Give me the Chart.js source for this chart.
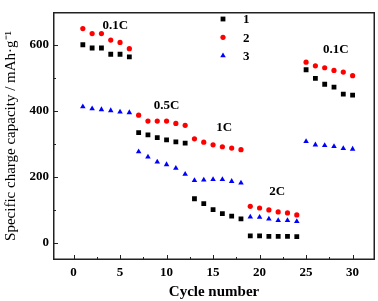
<!DOCTYPE html>
<html>
<head>
<meta charset="utf-8">
<script src="https://cdn.jsdelivr.net/npm/chart.js@4"></script>
<style>
  html, body { margin:0; padding:0; background:#fff; }
  #wrap { width:378px; height:301px; }
</style>
</head>
<body>
<div id="wrap"><canvas id="rateChart" width="378" height="301"></canvas></div>
<script>
// cycles 1..30, values (mAh/g)
const cycles  = Array.from({ length: 30 }, (_, i) => i + 1);
const sample1 = [601, 591, 591, 572, 572, 564, 334, 327, 319, 312, 306, 302, 133, 118, 100, 88, 80, 72, 20, 20, 19, 19, 19, 18, 525, 499, 481, 472, 451, 448];
const sample2 = [650, 635, 635, 615, 608, 589, 387, 369, 369, 369, 362, 356, 315, 305, 297, 291, 287, 282, 110, 105, 99, 93, 90, 84, 548, 537, 531, 523, 518, 507];
const sample3 = [413, 407, 404, 401, 397, 395, 276, 260, 245, 237, 226, 208, 189, 190, 192, 192, 186, 181, 78, 77, 72, 67, 67, 64, 307, 297, 295, 292, 286, 284];
const seriesNames = ['1', '2', '3'];
const xTicks = [0, 5, 10, 15, 20, 25, 30];
const yTicks = [0, 200, 400, 600];
const rateLabels = ['0.1C', '0.5C', '1C', '2C', '0.1C'];
const rateLabelAt = [[4.5, 660], [10.0, 417], [16.2, 348], [21.9, 154], [28.2, 585]];

const SERIF = '"Liberation Serif", "Times New Roman", serif';

const toXY = vals => vals.map((v, i) => ({ x: cycles[i], y: v }));

const styles = [
    { color:'#000000', shape:'rect',     r:3.4 },
    { color:'#ff0000', shape:'circle',   r:2.6 },
    { color:'#0000ff', shape:'triangle', r:3.2 }
];

const framePlugin = {
    id: 'frame',
    afterDraw(chart) {
        const { ctx, chartArea: a, scales: { x, y } } = chart;
        const L = Math.round(a.left), R = Math.round(a.right), T = Math.round(a.top), B = Math.round(a.bottom);
        ctx.save();
        ctx.globalAlpha = 1;
        ctx.fillStyle = '#222222';
        // frame as filled strips
        ctx.fillRect(L - 1, T - 1, R - L + 2, 1.5);
        ctx.fillRect(L - 1, B - 0.5, R - L + 2, 1.5);
        ctx.fillRect(L - 1, T - 1, 1.5, B - T + 2);
        ctx.fillRect(R - 0.5, T - 1, 1.5, B - T + 2);

        // inward ticks
        xTicks.forEach((t, i) => {
            const px = Math.round(x.getPixelForValue(t));
            ctx.fillRect(px, B - 4, 1, 4);
            if (i < xTicks.length - 1) {
                const mx = Math.round(x.getPixelForValue(t + 2.5));
                ctx.fillRect(mx, B - 2, 1, 2);
            }
        });
        yTicks.forEach((t, i) => {
            const py = Math.round(y.getPixelForValue(t));
            ctx.fillRect(L, py, 4, 1);
            if (i < yTicks.length - 1) {
                const my = Math.round(y.getPixelForValue(t + 100));
                ctx.fillRect(L, my, 2, 1);
            }
        });

        // rate annotations
        ctx.fillStyle = '#000';
        ctx.font = `bold 13px ${SERIF}`;
        ctx.textAlign = 'center';
        ctx.textBaseline = 'middle';
        rateLabels.forEach((txt, i) => {
            ctx.fillText(txt, x.getPixelForValue(rateLabelAt[i][0]), y.getPixelForValue(rateLabelAt[i][1]));
        });

        // legend
        ctx.textAlign = 'left';
        seriesNames.forEach((name, i) => {
            const ly = 19 + i * 18.3;
            const s = styles[i];
            ctx.fillStyle = s.color;
            Chart.helpers.drawPoint(ctx, { pointStyle: s.shape, radius: s.r, borderWidth: 0 }, 223, ly);
            ctx.fillStyle = '#000';
            ctx.fillText(name, 243, ly + 1);
        });
        ctx.restore();
    }
};

new Chart(document.getElementById('rateChart'), {
    type: 'scatter',
    data: {
        datasets: [sample1, sample2, sample3].map((vals, i) => ({
            label: seriesNames[i],
            data: toXY(vals),
            pointStyle: styles[i].shape,
            pointRadius: styles[i].r,
            pointBackgroundColor: styles[i].color,
            pointBorderWidth: 0,
            showLine: false
        }))
    },
    options: {
        responsive: false,
        animation: false,
        layout: { padding: { top: 2, right: 3, left: 0, bottom: 0 } },
        plugins: { legend: { display: false }, tooltip: { enabled: false } },
        scales: {
            x: {
                type: 'linear', min: -2.1, max: 32.3,
                afterBuildTicks: s => { s.ticks = xTicks.map(v => ({ value: v })); },
                afterFit: s => { s.height = 42; },
                grid: { display: false, drawTicks: false },
                border: { display: false },
                ticks: { color:'#000', padding: 6, font: { family: SERIF, size: 13, weight: 'bold' }, maxRotation: 0 },
                title: { display: true, text: 'Cycle number', color:'#000', padding: { top: 0, bottom: 0 },
                         font: { family: SERIF, size: 15, weight: 'bold' } }
            },
            y: {
                type: 'linear', min: -50, max: 698,
                afterBuildTicks: s => { s.ticks = yTicks.map(v => ({ value: v })); },
                afterFit: s => { s.width = 54; },
                grid: { display: false, drawTicks: false },
                border: { display: false },
                ticks: { color:'#000', padding: 5, font: { family: SERIF, size: 13, weight: 'bold' } },
                title: { display: true, text: 'Specific charge capacity / mAh·g⁻¹', color:'#000',
                         padding: { top: 2, bottom: 0 }, font: { family: SERIF, size: 15 } }
            }
        }
    },
    plugins: [framePlugin]
});
</script>
</body>
</html>
